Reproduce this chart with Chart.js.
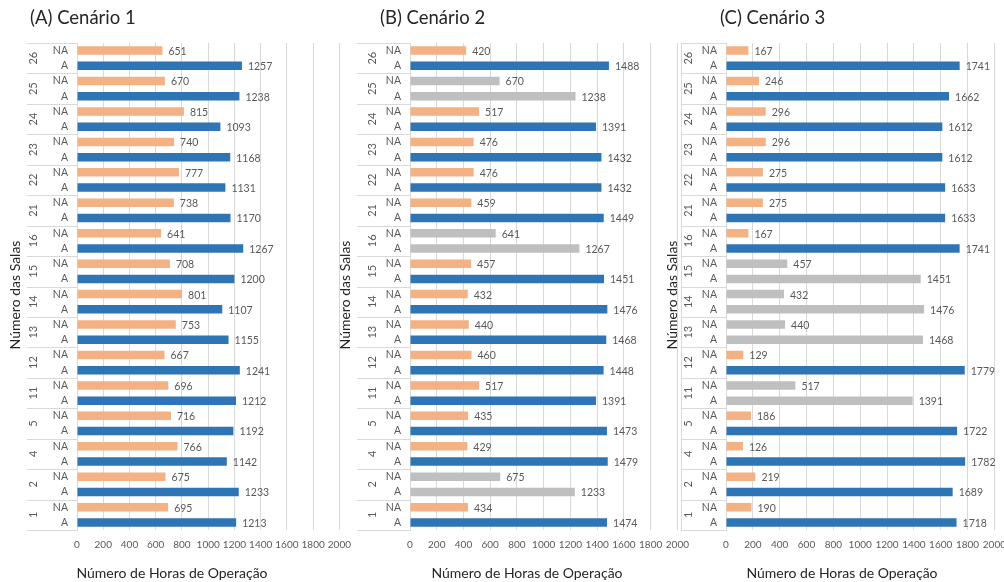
<!DOCTYPE html>
<html>
<head>
<meta charset="utf-8">
<script src="https://cdn.jsdelivr.net/npm/chart.js@4.4.1/dist/chart.umd.min.js"></script>
<style>
  html, body { margin: 0; padding: 0; background: #fff; overflow: hidden; width: 1004px; height: 582px; }
  body { position: relative; }
  canvas { position: absolute; top: 0; }
</style>
</head>
<body>
<canvas id="panelA" width="360" height="582" style="left:0px"></canvas>
<canvas id="panelB" width="368" height="582" style="left:330px"></canvas>
<canvas id="panelC" width="360" height="582" style="left:655px"></canvas>
<script>
// Rooms, listed from the bottom of each panel to the top
const rooms = ['1', '2', '4', '5', '11', '12', '13', '14', '15', '16', '21', '22', '23', '24', '25', '26'];
const rowKinds = ['NA', 'A'];
const xTickValues = [0, 200, 400, 600, 800, 1000, 1200, 1400, 1600, 1800, 2000];

// Scenario 1 — operating hours per room
const cen1NA = [695, 675, 766, 716, 696, 667, 753, 801, 708, 641, 738, 777, 740, 815, 670, 651];
const cen1A  = [1213, 1233, 1142, 1192, 1212, 1241, 1155, 1107, 1200, 1267, 1170, 1131, 1168, 1093, 1238, 1257];
const cen1Unchanged = [];

// Scenario 2
const cen2NA = [434, 675, 429, 435, 517, 460, 440, 432, 457, 641, 459, 476, 476, 517, 670, 420];
const cen2A  = [1474, 1233, 1479, 1473, 1391, 1448, 1468, 1476, 1451, 1267, 1449, 1432, 1432, 1391, 1238, 1488];
const cen2Unchanged = ['2', '16', '25'];

// Scenario 3
const cen3NA = [190, 219, 126, 186, 517, 129, 440, 432, 457, 167, 275, 275, 296, 296, 246, 167];
const cen3A  = [1718, 1689, 1782, 1722, 1391, 1779, 1468, 1476, 1451, 1741, 1633, 1633, 1612, 1612, 1662, 1741];
const cen3Unchanged = ['11', '13', '14', '15'];

const panelTitles = ['(A) Cenário 1', '(B) Cenário 2', '(C) Cenário 3'];
const xAxisTitle = 'Número de Horas de Operação';
const yAxisTitle = 'Número das Salas';

const FONT = 'Lato, "Open Sans", sans-serif';
const COLORS = { NA: '#F4B183', A: '#2E75B6', unchanged: '#BFBFBF' };
const GRID = '#D9D9D9';
const TEXT = '#595959';

// Chart rows run from top to bottom: room 26 first, NA above A
function buildRows(naVals, aVals, unchanged) {
  const labels = [], values = [], colors = [], groups = [];
  for (let i = rooms.length - 1; i >= 0; i--) {
    const grey = unchanged.includes(rooms[i]);
    groups.push(rooms[i]);
    labels.push(rowKinds[0]); values.push(naVals[i]); colors.push(grey ? COLORS.unchanged : COLORS.NA);
    labels.push(rowKinds[1]); values.push(aVals[i]);  colors.push(grey ? COLORS.unchanged : COLORS.A);
  }
  return { labels, values, colors, groups };
}

const decorations = {
  id: 'decorations',
  afterDatasetsDraw(chart, args, opts) {
    const ctx = chart.ctx;
    const area = chart.chartArea;
    const y = chart.scales.y;
    const rows = opts.rows;
    ctx.save();

    // value labels at the bar ends
    ctx.font = '10.5px ' + FONT;
    ctx.fillStyle = TEXT;
    ctx.textAlign = 'left';
    ctx.textBaseline = 'middle';
    chart.getDatasetMeta(0).data.forEach((bar, i) => {
      ctx.fillText(String(rows.values[i]), bar.x + 6, bar.y + 1);
    });

    // room-number cells on the left of the row labels
    const groupH = (area.bottom - area.top) / rows.groups.length;
    ctx.strokeStyle = GRID;
    ctx.lineWidth = 1;
    for (let k = 0; k <= rows.groups.length; k++) {
      const yy = Math.round(area.top + k * groupH) + 0.5;
      ctx.beginPath();
      ctx.moveTo(opts.cellLeft, yy);
      ctx.lineTo(area.left, yy);
      ctx.stroke();
    }
    if (opts.cellBorder) {
      ctx.beginPath();
      ctx.moveTo(opts.cellLeft + 0.5, area.top);
      ctx.lineTo(opts.cellLeft + 0.5, area.bottom);
      ctx.stroke();
    }
    ctx.font = '11px ' + FONT;
    ctx.textAlign = 'center';
    rows.groups.forEach((g, k) => {
      const cy = (y.getPixelForValue(2 * k) + y.getPixelForValue(2 * k + 1)) / 2;
      ctx.save();
      ctx.translate(opts.numX, cy);
      ctx.rotate(-Math.PI / 2);
      ctx.fillText(g, 0, 0);
      ctx.restore();
    });

    // panel title
    ctx.fillStyle = '#262626';
    ctx.font = '18.5px ' + FONT;
    ctx.textAlign = 'left';
    ctx.fillText(opts.title, opts.titleX, 18);

    // axis titles
    ctx.fillStyle = '#262626';
    ctx.font = '14px ' + FONT;
    ctx.textAlign = 'center';
    ctx.fillText(xAxisTitle, opts.xTitleX, 573);
    ctx.save();
    ctx.translate(opts.yTitleX, 295);
    ctx.rotate(-Math.PI / 2);
    ctx.fillText(yAxisTitle, 0, 0);
    ctx.restore();

    ctx.restore();
  }
};

function makePanel(id, title, naVals, aVals, unchanged, lay) {
  const rows = buildRows(naVals, aVals, unchanged);
  return new Chart(document.getElementById(id), {
    type: 'bar',
    data: {
      labels: rows.labels,
      datasets: [{
        data: rows.values,
        backgroundColor: rows.colors,
        borderWidth: 0,
        barPercentage: 0.56,
        categoryPercentage: 1
      }]
    },
    options: {
      indexAxis: 'y',
      responsive: false,
      animation: false,
      devicePixelRatio: 1,
      layout: { padding: { top: 43, right: lay.padRight, left: 0, bottom: 0 } },
      plugins: {
        legend: { display: false },
        tooltip: { enabled: false },
        decorations: Object.assign({ rows, title }, lay)
      },
      scales: {
        x: {
          min: 0, max: 2000,
          afterBuildTicks(scale) { scale.ticks = xTickValues.map(v => ({ value: v })); },
          ticks: {
            color: TEXT, font: { family: FONT, size: 10 }, padding: 9, maxRotation: 0, autoSkip: false,
            callback: v => String(v)
          },
          grid: { color: GRID, drawTicks: false },
          border: { display: false },
          afterFit(scale) { scale.height = 52; }
        },
        y: {
          ticks: { color: TEXT, font: { family: FONT, size: 10.5 }, padding: 9, autoSkip: false },
          grid: { display: false, drawTicks: false },
          border: { color: GRID },
          afterFit(scale) { scale.width = lay.plotLeft; }
        }
      }
    },
    plugins: [decorations]
  });
}

makePanel('panelA', panelTitles[0], cen1NA, cen1A, cen1Unchanged,
  { plotLeft: 77, padRight: 18, titleX: 30, yTitleX: 15, numX: 33, cellLeft: 27, cellBorder: false, xTitleX: 172 });
makePanel('panelB', panelTitles[1], cen2NA, cen2A, cen2Unchanged,
  { plotLeft: 80, padRight: 18, titleX: 50, yTitleX: 15, numX: 42, cellLeft: 27, cellBorder: false, xTitleX: 197 });
makePanel('panelC', panelTitles[2], cen3NA, cen3A, cen3Unchanged,
  { plotLeft: 71, padRight: 18, titleX: 65, yTitleX: 17, numX: 33, cellLeft: 26, cellBorder: true, xTitleX: 187 });
</script>
</body>
</html>
